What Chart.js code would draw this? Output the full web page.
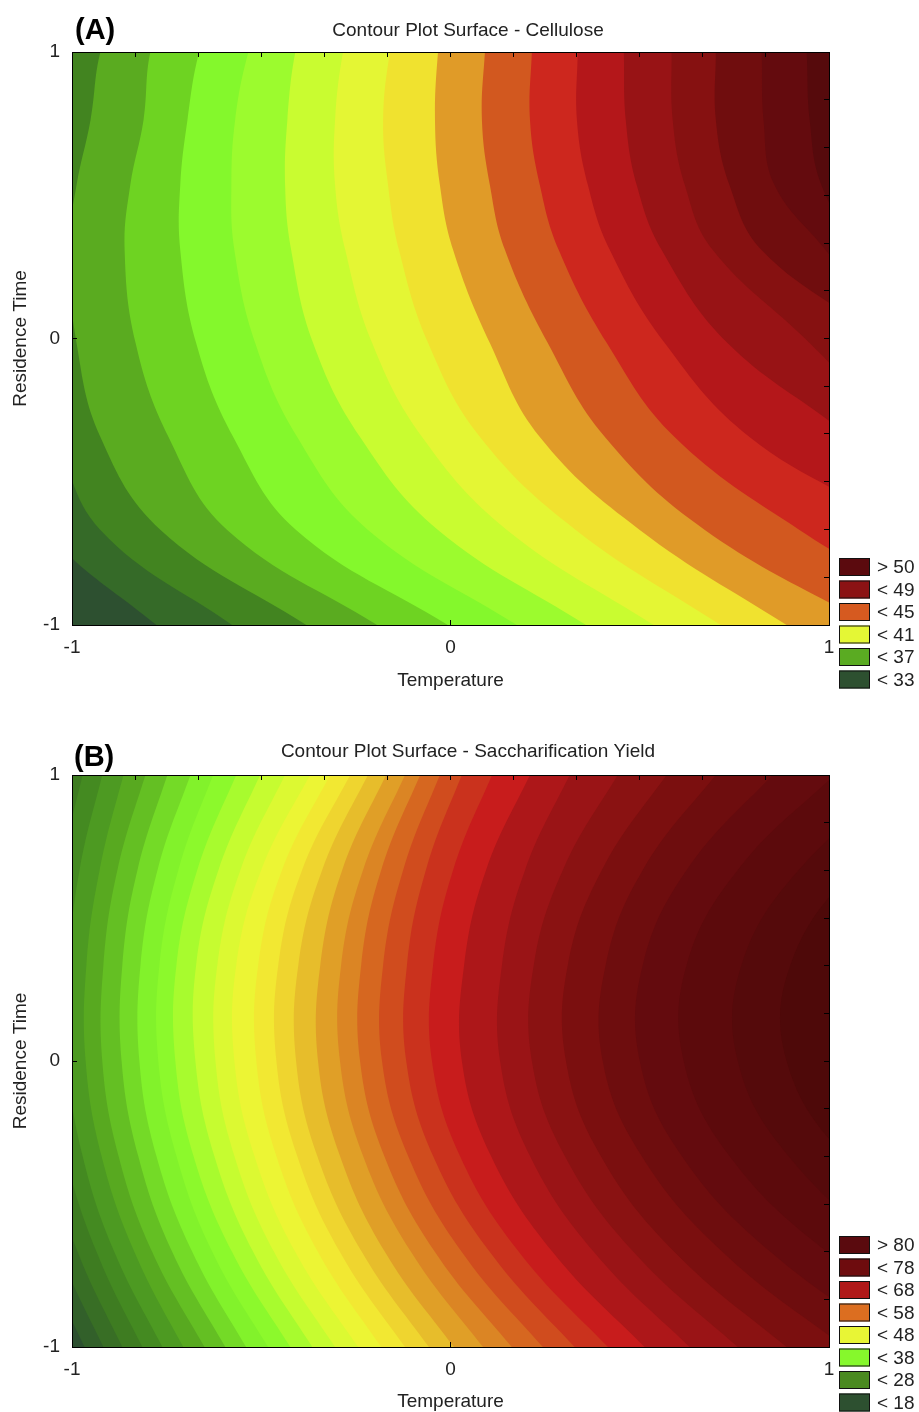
<!DOCTYPE html>
<html>
<head>
<meta charset="utf-8">
<script src="https://cdn.jsdelivr.net/npm/chart.js@4.4.1/dist/chart.umd.min.js"></script>
<style>
html, body { margin: 0; padding: 0; background: #ffffff; }
#wrap { position: relative; width: 919px; height: 1412px; overflow: hidden; }
canvas { position: absolute; left: 0; }
#chartA { top: 0; }
#chartB { top: 700px; }
</style>
</head>
<body>
<div id="wrap">
  <canvas id="chartA" width="919" height="700"></canvas>
  <canvas id="chartB" width="919" height="712"></canvas>
</div>
<script>
// ---------------- axis ticks ----------------
const majorTicks = [-1, 0, 1];
const minorTicks = [-1, -0.8333, -0.6667, -0.5, -0.3333, -0.1667, 0, 0.1667, 0.3333, 0.5, 0.6667, 0.8333, 1];

// ---------------- panel A : Cellulose ----------------
const levelsA = [33, 34, 35, 36, 37, 38, 39, 40, 41, 42, 43, 44, 45, 46, 47, 48, 49, 50];
// residence-time values (y) at which each contour's temperature (x) was read
const rowsA = [1.042, 1.0, 0.763, 0.536, 0.309, -0.016, -0.344, -0.668, -1.0, -1.042];
// temperature position of each contour line at the rows above (low level -> high level)
const contoursA = [
  [-1.453, -1.453, -1.439, -1.413, -1.373, -1.294, -1.189, -1.070, -0.777, -0.727],
  [-1.347, -1.347, -1.334, -1.307, -1.268, -1.162, -1.044, -0.925, -0.577, -0.526],
  [-0.898, -0.925, -0.951, -0.988, -1.009, -0.988, -0.925, -0.766, -0.381, -0.331],
  [-0.766, -0.793, -0.811, -0.846, -0.861, -0.832, -0.745, -0.590, -0.194, -0.144],
  [-0.640, -0.664, -0.695, -0.714, -0.714, -0.672, -0.574, -0.408, -0.007, 0.044],
  [-0.513, -0.534, -0.569, -0.579, -0.571, -0.516, -0.405, -0.218, 0.175, 0.226],
  [-0.392, -0.410, -0.431, -0.437, -0.421, -0.363, -0.239, -0.033, 0.358, 0.408],
  [-0.268, -0.284, -0.305, -0.305, -0.278, -0.207, -0.075, 0.149, 0.537, 0.587],
  [-0.146, -0.160, -0.178, -0.165, -0.136, -0.059, 0.078, 0.331, 0.714, 0.764],
  [-0.025, -0.033, -0.041, -0.028, 0.007, 0.104, 0.236, 0.500, 0.888, 0.941],
  [0.096, 0.091, 0.083, 0.104, 0.144, 0.257, 0.408, 0.672, 1.107, 1.160],
  [0.218, 0.215, 0.210, 0.236, 0.286, 0.413, 0.592, 0.922, 1.344, 1.397],
  [0.336, 0.336, 0.334, 0.363, 0.421, 0.566, 0.790, 1.186, 1.450, 1.476],
  [0.458, 0.458, 0.463, 0.492, 0.558, 0.732, 1.054, 1.318, 1.529, 1.555],
  [0.584, 0.584, 0.587, 0.619, 0.693, 0.949, 1.186, 1.397, 1.582, 1.608],
  [0.701, 0.701, 0.701, 0.737, 0.822, 1.133, 1.318, 1.503, 1.687, 1.714],
  [0.819, 0.822, 0.827, 0.856, 0.991, 1.186, 1.371, 1.555, 1.740, 1.766],
  [0.938, 0.941, 0.949, 0.980, 1.080, 1.265, 1.450, 1.635, 1.819, 1.846]
];
const colorsA = ['#2d5030', '#356a28', '#428420', '#5aab20', '#6ed322', '#84f82c', '#9cfb2e', '#c9fc30',
  '#e4f634', '#f0e22f', '#e09b28', '#d2581f', '#cd271e', '#b4171a', '#981315', '#861111', '#700d0e', '#640b0e', '#560a0c'];
const legendLabelsA = ['> 50', '< 49', '< 45', '< 41', '< 37', '< 33'];
const legendColorsA = ['#5b0a0e', '#8b1214', '#d65a20', '#e4f735', '#5aab22', '#2d5030'];

// ---------------- panel B : Saccharification Yield ----------------
const levelsB = [18, 20, 22, 24, 26, 28, 30, 32, 34, 36, 38, 40, 42, 44, 46, 48, 50, 52, 54, 56, 58, 60, 62, 64, 66, 68, 70, 72, 74, 76, 78, 80];
const rowsB = [1.070, 1.0, 0.668, 0.336, 0, -0.332, -0.668, -1.0, -1.070];
const contoursB = [
  [-1.104, -1.117, -1.165, -1.189, -1.191, -1.154, -1.080, -0.967, -0.938],
  [-1.057, -1.070, -1.120, -1.144, -1.146, -1.110, -1.033, -0.917, -0.888],
  [-1.009, -1.022, -1.073, -1.099, -1.102, -1.065, -0.985, -0.867, -0.838],
  [-0.956, -0.972, -1.028, -1.054, -1.057, -1.017, -0.935, -0.814, -0.782],
  [-0.904, -0.920, -0.980, -1.009, -1.012, -0.972, -0.888, -0.761, -0.730],
  [-0.846, -0.864, -0.927, -0.962, -0.964, -0.922, -0.835, -0.706, -0.672],
  [-0.785, -0.806, -0.880, -0.917, -0.920, -0.877, -0.788, -0.650, -0.616],
  [-0.727, -0.748, -0.827, -0.867, -0.869, -0.825, -0.735, -0.595, -0.561],
  [-0.664, -0.687, -0.774, -0.819, -0.822, -0.777, -0.682, -0.540, -0.503],
  [-0.600, -0.627, -0.719, -0.769, -0.772, -0.724, -0.629, -0.482, -0.445],
  [-0.537, -0.566, -0.669, -0.724, -0.727, -0.679, -0.577, -0.423, -0.384],
  [-0.474, -0.503, -0.613, -0.672, -0.674, -0.624, -0.521, -0.365, -0.326],
  [-0.405, -0.437, -0.555, -0.616, -0.621, -0.571, -0.466, -0.305, -0.265],
  [-0.336, -0.371, -0.500, -0.566, -0.571, -0.518, -0.410, -0.244, -0.202],
  [-0.284, -0.318, -0.445, -0.508, -0.513, -0.460, -0.350, -0.183, -0.141],
  [-0.231, -0.265, -0.392, -0.455, -0.460, -0.405, -0.292, -0.120, -0.075],
  [-0.183, -0.218, -0.339, -0.402, -0.408, -0.352, -0.234, -0.057, -0.012],
  [-0.139, -0.170, -0.286, -0.344, -0.350, -0.292, -0.173, 0.009, 0.054],
  [-0.091, -0.120, -0.231, -0.289, -0.292, -0.231, -0.104, 0.086, 0.133],
  [-0.051, -0.080, -0.183, -0.236, -0.239, -0.175, -0.041, 0.162, 0.212],
  [-0.001, -0.028, -0.125, -0.178, -0.181, -0.112, 0.030, 0.244, 0.299],
  [0.057, 0.030, -0.065, -0.115, -0.117, -0.046, 0.104, 0.328, 0.387],
  [0.139, 0.110, 0.007, -0.046, -0.049, 0.025, 0.181, 0.416, 0.476],
  [0.241, 0.210, 0.094, 0.036, 0.030, 0.107, 0.270, 0.513, 0.574],
  [0.347, 0.315, 0.197, 0.136, 0.131, 0.210, 0.379, 0.632, 0.695],
  [0.482, 0.442, 0.297, 0.220, 0.215, 0.302, 0.484, 0.759, 0.827],
  [0.619, 0.571, 0.400, 0.310, 0.305, 0.397, 0.592, 0.888, 0.962],
  [0.753, 0.701, 0.508, 0.410, 0.402, 0.505, 0.719, 1.041, 1.123],
  [0.912, 0.851, 0.624, 0.508, 0.500, 0.611, 0.846, 1.199, 1.289],
  [1.083, 1.015, 0.759, 0.624, 0.616, 0.737, 0.996, 1.381, 1.479],
  [1.286, 1.207, 0.920, 0.769, 0.759, 0.893, 1.175, 1.603, 1.711],
  [1.476, 1.389, 1.067, 0.898, 0.888, 1.041, 1.358, 1.838, 1.959]
];
const colorsB = ['#2d5030', '#32602a', '#386e25', '#3e7c21', '#448a21', '#4d9a22', '#58a920', '#64bf23', '#74da27',
  '#82f22b', '#8cf92c', '#a8fb2e', '#c6fc30', '#dcf932', '#ecf534', '#f2e832', '#efd52f', '#e7bd2b', '#e09f27',
  '#db8524', '#d66720', '#d04c1e', '#ca321d', '#c81c1c', '#ad1719', '#9a1416', '#8a1212', '#7b0f0f', '#6e0d0e',
  '#640b0e', '#5c0a0c', '#550a0b', '#4e0909'];
const legendLabelsB = ['> 80', '< 78', '< 68', '< 58', '< 48', '< 38', '< 28', '< 18'];
const legendColorsB = ['#5a0a0e', '#6e0c0e', '#b01818', '#dc6e20', '#e8f535', '#86f82c', '#4a8a20', '#2d5030'];

// ---------------- rendering ----------------
const FONT = '"Liberation Sans", Arial, Helvetica, sans-serif';
Chart.defaults.font.family = FONT;
Chart.defaults.font.size = 19;
Chart.defaults.color = '#222';

// each band = region to the right of its lower contour, painted from low to high level
function bandDatasets(rows, contours, colors, levels) {
  const sets = [{ label: '< ' + levels[0], data: rows.map(y => ({ x: -3, y })), backgroundColor: colors[0] }];
  contours.forEach((xs, i) => {
    sets.push({ label: '> ' + levels[i], data: xs.map((x, j) => ({ x, y: rows[j] })), backgroundColor: colors[i + 1] });
  });
  return sets.reverse().map(ds => Object.assign(ds, {
    fill: { value: 3 },
    borderWidth: 0,
    borderColor: 'rgba(0,0,0,0)',
    pointRadius: 0,
    pointHoverRadius: 0,
    pointHitRadius: 0,
    tension: 0.4,
    cubicInterpolationMode: 'default',
    capBezierPoints: false,
    xAxisID: 'x',
    yAxisID: 'y'
  }));
}

function textPlugin(p) {
  return {
    id: 'panelText',
    afterDraw(chart) {
      const ctx = chart.ctx;
      ctx.save();
      ctx.textBaseline = 'alphabetic';
      ctx.fillStyle = '#222';
      ctx.font = '19px ' + FONT;
      ctx.textAlign = 'center';
      ctx.fillText(p.title, p.titleX, p.titleY);
      ctx.fillStyle = '#000';
      ctx.font = 'bold 29px ' + FONT;
      ctx.textAlign = 'left';
      ctx.fillText(p.label, p.labelX, p.labelY);
      ctx.font = '19px ' + FONT;
      ctx.textBaseline = 'middle';
      p.legendLabels.forEach((t, i) => {
        const top = p.legendTop + i * p.legendStep;
        ctx.fillStyle = p.legendColors[i];
        ctx.fillRect(p.legendX, top, p.boxW, p.boxH);
        ctx.strokeStyle = '#111';
        ctx.lineWidth = 1;
        ctx.strokeRect(p.legendX + 0.5, top + 0.5, p.boxW - 1, p.boxH - 1);
        ctx.fillStyle = '#222';
        ctx.fillText(t, p.legendX + p.boxW + 7, top + p.boxH / 2 + 1);
      });
      ctx.restore();
    }
  };
}

function makePanel(id, p) {
  const frame = { display: true, color: '#000', width: 1, z: 2 };
  const inward = { display: true, drawOnChartArea: false, drawTicks: true, tickLength: -5, color: '#000', lineWidth: 1, z: 1 };
  const setMajor = s => { s.ticks = majorTicks.map(v => ({ value: v })); };
  const setMinor = s => { s.ticks = minorTicks.map(v => ({ value: v })); };
  return new Chart(document.getElementById(id), {
    type: 'line',
    data: { datasets: bandDatasets(p.rows, p.contours, p.colors, p.levels) },
    options: {
      indexAxis: 'y',
      responsive: false,
      animation: false,
      events: [],
      layout: { padding: 0 },
      plugins: { legend: { display: false }, tooltip: { enabled: false } },
      scales: {
        x: {
          type: 'linear', position: 'bottom', min: -1, max: 1,
          afterBuildTicks: setMajor,
          afterFit: s => { s.height = p.bottomH; },
          grid: inward, border: frame,
          ticks: { padding: 16, color: '#222', font: { size: 19 }, maxRotation: 0, autoSkip: false },
          title: { display: true, text: 'Temperature', color: '#222', font: { size: 19 }, padding: { top: 0, bottom: p.xTitlePad } }
        },
        y: {
          type: 'linear', position: 'left', min: -1, max: 1,
          afterBuildTicks: setMajor,
          afterFit: s => { s.width = 72; },
          grid: inward, border: frame,
          ticks: { padding: 17, color: '#222', font: { size: 19 }, autoSkip: false },
          title: { display: true, text: 'Residence Time', color: '#222', font: { size: 19 }, padding: { top: 9, bottom: 0 } }
        },
        x2: {
          type: 'linear', position: 'top', min: -1, max: 1,
          afterBuildTicks: setMinor,
          afterFit: s => { s.height = p.topH; },
          grid: inward, border: frame,
          ticks: { display: false }
        },
        y2: {
          type: 'linear', position: 'right', min: -1, max: 1,
          afterBuildTicks: setMinor,
          afterFit: s => { s.width = 90; },
          grid: inward, border: frame,
          ticks: { display: false }
        }
      }
    },
    plugins: [textPlugin(p)]
  });
}

makePanel('chartA', {
  rows: rowsA, contours: contoursA, colors: colorsA, levels: levelsA,
  topH: 52, bottomH: 75, xTitlePad: 8,
  title: 'Contour Plot Surface - Cellulose', titleX: 468, titleY: 36,
  label: '(A)', labelX: 75, labelY: 39,
  legendLabels: legendLabelsA, legendColors: legendColorsA,
  legendX: 839, legendTop: 558, legendStep: 22.5, boxW: 31, boxH: 18
});

makePanel('chartB', {
  rows: rowsB, contours: contoursB, colors: colorsB, levels: levelsB,
  topH: 75, bottomH: 65, xTitlePad: -1,
  title: 'Contour Plot Surface - Saccharification Yield', titleX: 468, titleY: 57,
  label: '(B)', labelX: 74, labelY: 66,
  legendLabels: legendLabelsB, legendColors: legendColorsB,
  legendX: 839, legendTop: 536, legendStep: 22.5, boxW: 31, boxH: 18
});
</script>
</body>
</html>
